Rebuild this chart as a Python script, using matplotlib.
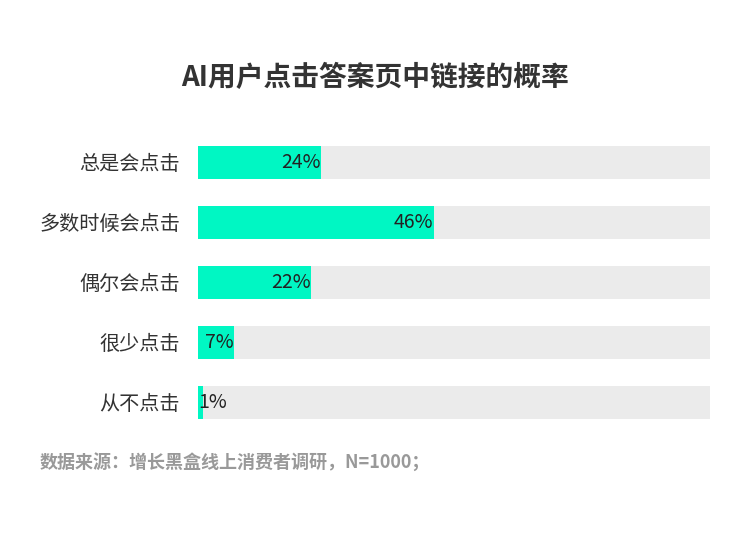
import numpy as np
import matplotlib
matplotlib.use('Agg')
import matplotlib.pyplot as plt

plt.rcParams['font.family'] = ['Noto Sans CJK SC', 'DejaVu Sans']

categories = ['总是会点击', '多数时候会点击', '偶尔会点击', '很少点击', '从不点击']
values = [24, 46, 22, 7, 1]
title = 'AI用户点击答案页中链接的概率'
source = '数据来源：增长黑盒线上消费者调研，N=1000；'

fig = plt.figure(figsize=[7.5, 5.33], dpi=100)
ax = fig.add_axes([198/750, 1-432/533, 512/750, 300/533])

y = np.arange(len(categories))
ax.barh(y, [100]*len(values), height=0.55, color='#ebebeb')
ax.barh(y, values, height=0.55, color='#00f7c3')

for i, v in enumerate(values):
    if v < 5:
        ax.text(0, i, f'{v}%', ha='left', va='center', fontsize=14, color='#222222')
    else:
        ax.text(v, i, f'{v}%', ha='right', va='center', fontsize=14, color='#222222')

ax.set_xlim(0, 100)
ax.set_ylim(len(categories)-0.5, -0.5)
ax.set_yticks(y)
ax.set_yticklabels(categories, fontsize=14.5, color='#333333')
ax.tick_params(axis='y', length=0, pad=13)
ax.set_xticks([])
for s in ax.spines.values():
    s.set_visible(False)

fig.text(0.5, 1-78/533, title, ha='center', va='center', fontsize=20, fontweight='bold', color='#333333')
fig.text(40/750, 1-462/533, source, ha='left', va='center', fontsize=13, fontweight='bold', color='#999999')

fig.savefig('out.png', dpi=100)
